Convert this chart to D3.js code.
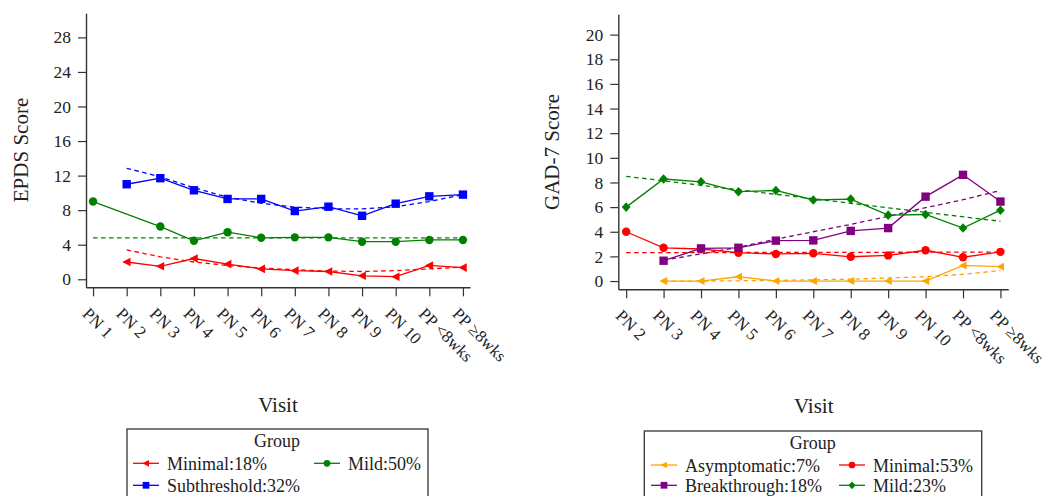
<!DOCTYPE html>
<html><head><meta charset="utf-8">
<script src="https://cdn.jsdelivr.net/npm/d3@7"></script>
<style>
html,body{margin:0;padding:0;background:#fff;}
svg{display:block;font-family:"Liberation Serif","Times New Roman",serif;}
</style></head>
<body>
<svg id="chart" width="1063" height="496"></svg>
<script>
// ---------- Data ----------
const visitsEPDS = ["PN 1","PN 2","PN 3","PN 4","PN 5","PN 6","PN 7","PN 8","PN 9","PN 10","PP <8wks","PP \u22658wks"];
const epdsMinimal = [null,2.0,1.5,2.4,1.75,1.2,1.0,0.9,0.4,0.3,1.6,1.35];
const epdsMild    = [9.0,null,6.1,4.45,5.45,4.8,4.85,4.85,4.35,4.35,4.55,4.55];
const epdsSub     = [null,11.0,11.7,10.3,9.3,9.3,7.9,8.4,7.35,8.75,9.6,9.8];
const epdsMinimalTrend = [null,3.4,2.6,2.0,1.6,1.3,1.1,0.95,0.9,1.0,1.2,1.4];
const epdsMildTrend    = [4.8,null,null,null,null,null,null,null,null,null,null,4.8];
const epdsSubTrend     = [null,12.85,11.85,10.6,9.5,8.8,8.35,8.15,8.15,8.4,9.0,9.8];
const epdsTicks = [0,4,8,12,16,20,24,28];

const visitsGAD = ["PN 2","PN 3","PN 4","PN 5","PN 6","PN 7","PN 8","PN 9","PN 10","PP <8wks","PP \u22658wks"];
const gadAsym     = [null,0,0,0.35,0,0,0,0,0,1.27,1.17];
const gadMinimal  = [4.0,2.7,2.6,2.3,2.2,2.25,1.97,2.08,2.5,1.93,2.37];
const gadBreak    = [null,1.65,2.65,2.7,3.28,3.3,4.07,4.3,6.85,8.62,6.45];
const gadMild     = [6.0,8.28,8.05,7.25,7.35,6.58,6.65,5.35,5.4,4.3,5.75];
const gadAsymTrend    = [null,0,0,0.02,0.05,0.1,0.15,0.25,0.35,0.55,0.85];
const gadMinimalTrend = [2.3,null,null,null,null,null,null,null,null,null,2.35];
const gadBreakTrend   = [null,1.7,2.2,2.75,3.4,4.0,4.6,5.25,5.95,6.6,7.35];
const gadMildTrend    = [8.5,null,null,null,null,null,null,null,null,null,4.85];
const gadTicks = [0,2,4,6,8,10,12,14,16,18,20];

const COLORS = {red:"#ff0000", green:"#008000", blue:"#0000ff", purple:"#800080", orange:"#ffa500"};
const AXIS = "#333", TXT = "#222";

const svg = d3.select("#chart");

function markerPath(shape, s){
  if(shape==="tri") return `M${-s},0L${s*0.85},${-s*0.95}L${s*0.85},${s*0.95}Z`;
  if(shape==="square") return `M${-s},${-s}H${s}V${s}H${-s}Z`;
  if(shape==="diamond") return `M0,${-s*1.2}L${s*1.1},0L0,${s*1.2}L${-s*1.1},0Z`;
  return null;
}
function drawMarker(g, shape, x, y, s, color){
  if(shape==="circle"){
    g.append("circle").attr("cx",x).attr("cy",y).attr("r",s).attr("fill",color);
  } else {
    g.append("path").attr("d",markerPath(shape,s)).attr("transform",`translate(${x},${y})`).attr("fill",color);
  }
}

function panel(cfg){
  const g = svg.append("g");
  const x = d3.scalePoint().domain(cfg.cats).range(cfg.xRange).padding(0.21);
  const y = d3.scaleLinear().domain(cfg.yDomain).range(cfg.yRange);
  const axisY = cfg.yRange[0];

  // y axis
  const ya = g.append("g").attr("transform",`translate(${cfg.xRange[0]},0)`)
    .call(d3.axisLeft(y).tickValues(cfg.yTicks).tickSize(8).tickSizeOuter(0).tickPadding(7));
  ya.attr("font-family",null);
  ya.select(".domain").attr("stroke",AXIS).attr("stroke-width",1.4);
  ya.selectAll(".tick line").attr("stroke",AXIS).attr("stroke-width",1.2);
  ya.selectAll(".tick text").attr("fill",TXT).style("font-size","17.5px");

  // x axis
  const xa = g.append("g").attr("transform",`translate(0,${axisY})`)
    .call(d3.axisBottom(x).tickSize(9).tickSizeOuter(0));
  xa.attr("font-family",null);
  xa.select(".domain").attr("stroke",AXIS).attr("stroke-width",1.4);
  xa.selectAll(".tick line").attr("stroke",AXIS).attr("stroke-width",1.2);
  xa.selectAll(".tick text").attr("fill",TXT).style("font-size","17px")
    .attr("y",0).attr("dy",0).attr("text-anchor","start")
    .attr("transform","translate(-12,27.5) rotate(45)");

  // trend lines
  const line = d3.line().x(d=>x(d.c)).y(d=>y(d.v));
  cfg.series.forEach(s=>{
    const pts = s.trend.map((v,i)=>({c:cfg.cats[i],v})).filter(d=>d.v!==null);
    g.append("path").datum(pts).attr("d",line).attr("fill","none")
      .attr("stroke",s.color).attr("stroke-width",1.3).attr("stroke-dasharray","4.5,3.5");
  });
  // series
  cfg.series.forEach(s=>{
    const pts = s.values.map((v,i)=>({c:cfg.cats[i],v})).filter(d=>d.v!==null);
    g.append("path").datum(pts).attr("d",line).attr("fill","none")
      .attr("stroke",s.color).attr("stroke-width",1.3);
    const mg = g.append("g");
    pts.forEach(d=>drawMarker(mg, s.shape, x(d.c), y(d.v), s.size, s.color));
  });

  // titles
  g.append("text").attr("transform",`translate(${cfg.yTitlePos[0]},${cfg.yTitlePos[1]}) rotate(-90)`)
    .attr("text-anchor","middle").attr("fill",TXT).style("font-size","21px").text(cfg.yTitle);
  g.append("text").attr("x",cfg.xTitlePos[0]).attr("y",cfg.xTitlePos[1])
    .attr("text-anchor","middle").attr("fill",TXT).style("font-size","21px").text("Visit");

  // legend
  const L = cfg.legend;
  g.append("rect").attr("x",L.box[0]).attr("y",L.box[1]).attr("width",L.box[2]).attr("height",100)
    .attr("fill","#fff").attr("stroke",AXIS).attr("stroke-width",1.3);
  g.append("text").attr("x",L.titleX).attr("y",L.box[1]+18).attr("text-anchor","middle")
    .attr("fill",TXT).style("font-size","18px").text("Group");
  L.items.forEach(it=>{
    const [lx, ly] = it.pos;
    g.append("line").attr("x1",lx).attr("x2",lx+26).attr("y1",ly).attr("y2",ly)
      .attr("stroke",it.s.color).attr("stroke-width",1.3);
    drawMarker(g, it.s.shape, lx+13, ly, it.s.size*0.8, it.s.color);
    g.append("text").attr("x",lx+34).attr("y",ly+6.5).attr("fill",TXT)
      .style("font-size","18px").text(it.s.label);
  });
}

const sMinimalE = {label:"Minimal:18%", color:COLORS.red, shape:"tri", size:4.5, values:epdsMinimal, trend:epdsMinimalTrend};
const sMildE    = {label:"Mild:50%", color:COLORS.green, shape:"circle", size:4.2, values:epdsMild, trend:epdsMildTrend};
const sSubE     = {label:"Subthreshold:32%", color:COLORS.blue, shape:"square", size:4.2, values:epdsSub, trend:epdsSubTrend};

panel({
  cats: visitsEPDS, xRange:[86,470], yDomain:[-0.93,30.8], yRange:[287.3,13.2], yTicks:epdsTicks,
  yTitle:"EPDS Score", yTitlePos:[28,150], xTitlePos:[278,411.7],
  series:[sMildE, sSubE, sMinimalE],
  legend:{box:[127,429,301], titleX:277,
    items:[{s:sMinimalE,pos:[133,463.3]},{s:sMildE,pos:[314,463.3]},{s:sSubE,pos:[133,485.3]}]}
});

const sAsymG  = {label:"Asymptomatic:7%", color:COLORS.orange, shape:"tri", size:4.2, values:gadAsym, trend:gadAsymTrend};
const sMinG   = {label:"Minimal:53%", color:COLORS.red, shape:"circle", size:4.2, values:gadMinimal, trend:gadMinimalTrend};
const sBreakG = {label:"Breakthrough:18%", color:COLORS.purple, shape:"square", size:4.2, values:gadBreak, trend:gadBreakTrend};
const sMildG  = {label:"Mild:23%", color:COLORS.green, shape:"diamond", size:4.0, values:gadMild, trend:gadMildTrend};

panel({
  cats: visitsGAD, xRange:[618.3,1008.3], yDomain:[-0.67,21.65], yRange:[289.3,14.3], yTicks:gadTicks,
  yTitle:"GAD-7 Score", yTitlePos:[558.5,152], xTitlePos:[813.7,413.3],
  series:[sAsymG, sMinG, sBreakG, sMildG],
  legend:{box:[644.3,431,337.4], titleX:812.7,
    items:[{s:sAsymG,pos:[651,465]},{s:sMinG,pos:[839,465]},{s:sBreakG,pos:[651,485.3]},{s:sMildG,pos:[839,485.3]}]}
});
</script>
</body></html>
